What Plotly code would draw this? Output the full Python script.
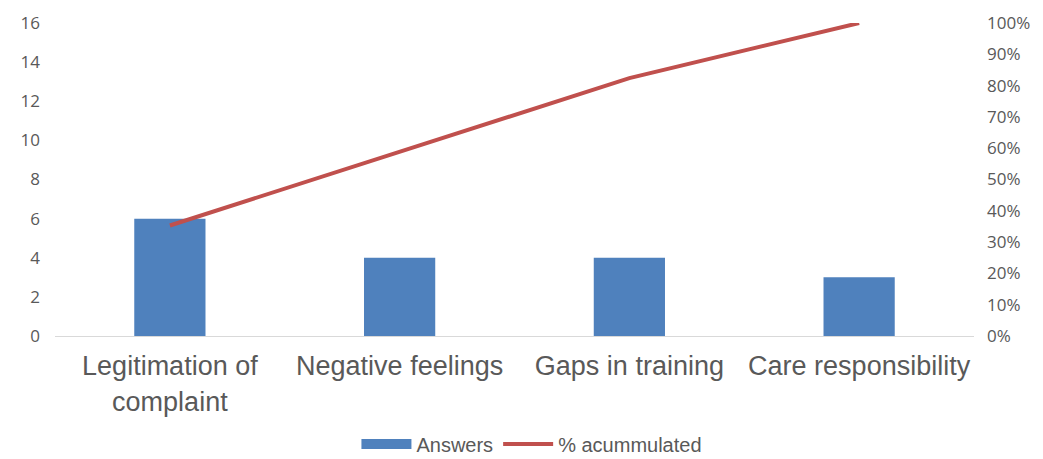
import plotly.graph_objects as go

categories = ["Legitimation of<br>complaint", "Negative feelings", "Gaps in training", "Care responsibility"]
answers = [6, 4, 4, 3]
cumulative_pct = [35.3, 58.8, 82.4, 100.0]

left_ticks = [0, 2, 4, 6, 8, 10, 12, 14, 16]
right_ticks = [0, 10, 20, 30, 40, 50, 60, 70, 80, 90, 100]
right_labels = [f"{t}%" for t in right_ticks]

BLUE = "#4f81bd"
RED = "#c0504d"

fig = go.Figure()
fig.add_trace(go.Bar(x=categories, y=answers, name="Answers", showlegend=False,
                     marker=dict(color=BLUE, line=dict(width=0))))
# legend proxy for the bars (wide rectangle swatch)
fig.add_trace(go.Scatter(x=[categories[0]], y=[None], name="Answers", mode="lines",
                         line=dict(color=BLUE, width=12), hoverinfo="skip"))
fig.add_trace(go.Scatter(x=categories, y=cumulative_pct, name="% acummulated",
                         mode="lines", line=dict(color=RED, width=4),
                         yaxis="y2"))

fig.update_layout(
    width=1043, height=459,
    margin=dict(l=55, r=69, t=23, b=123, autoexpand=False),
    paper_bgcolor="white", plot_bgcolor="white",
    bargap=0.69,
    showlegend=True,
    legend=dict(orientation="h", x=0.51, xanchor="center", xref="container",
                y=-0.345, yanchor="middle", yref="paper",
                font=dict(family="Liberation Sans, Arial", size=20, color="#595959"),
                traceorder="normal", itemwidth=50, tracegroupgap=0,
                bgcolor="rgba(0,0,0,0)"),
    xaxis=dict(tickfont=dict(family="Liberation Sans, Arial", size=27, color="#595959"),
               showgrid=False, showline=True, linecolor="#d9d9d9", linewidth=1,
               ticks="", tickangle=0, automargin=False, ticklabelstandoff=6),
    yaxis=dict(range=[0, 16], tickvals=left_ticks, showgrid=False, zeroline=False,
               showline=False, ticks="", automargin=False,
               tickfont=dict(family="Open Sans, Liberation Sans", size=17, color="#595959"),
               ticklabelstandoff=14),
    yaxis2=dict(range=[0, 100], tickvals=right_ticks, ticktext=right_labels,
                overlaying="y", side="right", showgrid=False, zeroline=False,
                showline=False, ticks="", automargin=False,
                tickfont=dict(family="Open Sans, Liberation Sans", size=17, color="#595959"),
                ticklabelstandoff=12),
)

fig.write_html("out.html")
